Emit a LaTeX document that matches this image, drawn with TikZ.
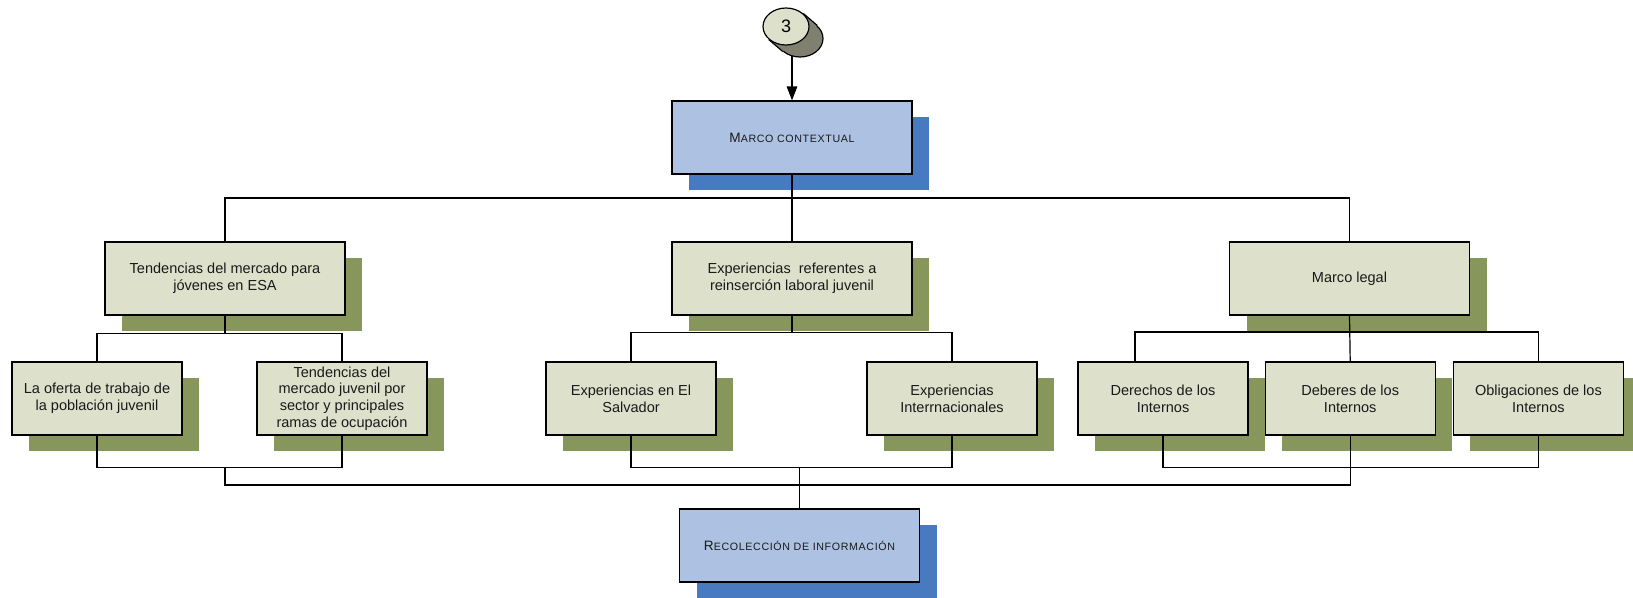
\documentclass[tikz,border=0pt]{standalone}
\usepackage{fontspec}
\setmainfont{Liberation Sans}
\newfontfamily\capsfont[LetterSpace=6]{Liberation Sans}
\usepackage{tikz}
\usetikzlibrary{shapes,arrows.meta,positioning,calc,shadows}

\definecolor{boxfill}{RGB}{221,225,203}
\definecolor{olivesh}{RGB}{135,150,90}
\definecolor{bluefill}{RGB}{173,194,227}
\definecolor{bluesh}{RGB}{72,122,193}
\definecolor{cylgray}{RGB}{128,128,112}

\newcommand{\fakesc}[2]{{\capsfont\fontsize{10.2}{12}\selectfont #1\fontsize{8}{9}\selectfont #2}}

\tikzset{
  basebox/.style={rectangle, draw, line width=0.9pt, inner sep=0pt, align=center,
    minimum width=180pt, minimum height=54.75pt, text=black!90,
    font=\fontsize{10.9}{12.5}\selectfont},
  topic/.style={basebox, fill=boxfill,
    drop shadow={shadow xshift=12.75pt, shadow yshift=-12pt, fill=olivesh, opacity=1}},
  subtopic/.style={topic, minimum width=127.5pt},
  stage/.style={basebox, fill=bluefill,
    drop shadow={shadow xshift=12.75pt, shadow yshift=-12pt, fill=bluesh, opacity=1}},
  link/.style={line width=0.9pt},
  disc/.style={ellipse, draw, line width=0.9pt, inner sep=0pt, minimum width=34.5pt, minimum height=27.75pt},
}

\begin{document}
\begin{tikzpicture}[x=0.75pt, y=-0.75pt, node distance=12pt, >={Triangle[length=10.5pt,width=7.9pt]}]
        \useasboundingbox (0,0) rectangle (1633,597);

        \node (ctx) [stage] at (792,137.5) {\fakesc{M}{ARCO CONTEXTUAL}};

        \node (tend) [topic] at (225,278.5) {Tendencias del mercado para\\j\'ovenes en ESA};
        \node (expe) [topic] at (792,278.5) {Experiencias~~referentes a\\reinserci\'on laboral juvenil};
        \node (legal) [topic] at (1349.5,278.5) {Marco legal};

        \node (oferta) [subtopic] at (97,398.5) {La oferta de trabajo de\\la poblaci\'on juvenil};
        \node (ramas) [subtopic] at (342,398.5) {Tendencias del\\mercado juvenil por\\sector y principales\\ramas de ocupaci\'on};
        \node (salv) [subtopic] at (631,398.5) {Experiencias en El\\Salvador};
        \node (inter) [subtopic] at (952,398.5) {Experiencias\\Interrnacionales};
        \node (dere) [subtopic] at (1163,398.5) {Derechos de los\\Internos};
        \node (debe) [subtopic, right=of dere] {Deberes de los\\Internos};
        \node (obli) [subtopic, right=12.75pt of debe] {Obligaciones de los\\Internos};

        \node (reco) [stage] at (799.5,545.5) {\fakesc{R}{ECOLECCI\'ON DE INFORMACI\'ON}};

        % top tree
        \coordinate (topbar) at (792,198);
        \draw[link] (ctx.south) -- (topbar);
        \draw[link] (tend.north) |- (topbar) -| (legal.north);
        \draw[link] (topbar) -- (expe.north);

        \draw[link] (tend.south) -- ++(0,18) coordinate (tendbar);
        \draw[link] (oferta.north) |- (tendbar) -| (ramas.north);
        \draw[link] (expe.south) -- ++(0,17) coordinate (expebar);
        \draw[link] (salv.north) |- (expebar) -| (inter.north);
        \draw[link] (legal.south) -- (debe.north);
        \draw[link] (dere.north -| 1135,0) |- (legal.south |- 0,332) -| (obli.north);

        % lower merge
        \coordinate (merge) at (799.5,485);
        \draw[link] (oferta.south) -- ++(0,32) -| (ramas.south);
        \draw[link] (salv.south) -- ++(0,32) -| (inter.south);
        \draw[link] (dere.south) -- ++(0,32) -| (obli.south);
        \draw[link] (tend.south |- 0,467) |- (merge) -| (debe.south);
        \draw[link] (reco.north) -- (reco.north |- 0,467);

        % connector 3
        \draw[->, link] (ctx.north |- 800,38.5) -- (ctx.north);
        \node (connback) [disc, fill=cylgray] at (800,38.5) {};
        \fill[cylgray] (connback.37) -- (connback.217) -- ($(connback.217)+(-14,-12)$) -- ($(connback.37)+(-14,-12)$) -- cycle;
        \draw[link] (connback.37) -- ++(-14,-12) (connback.217) -- ++(-14,-12);
        \node (conn) [disc, fill=boxfill, font=\fontsize{13.5}{15}\selectfont] at (786,26.5) {3};
    \end{tikzpicture}
\end{document}
